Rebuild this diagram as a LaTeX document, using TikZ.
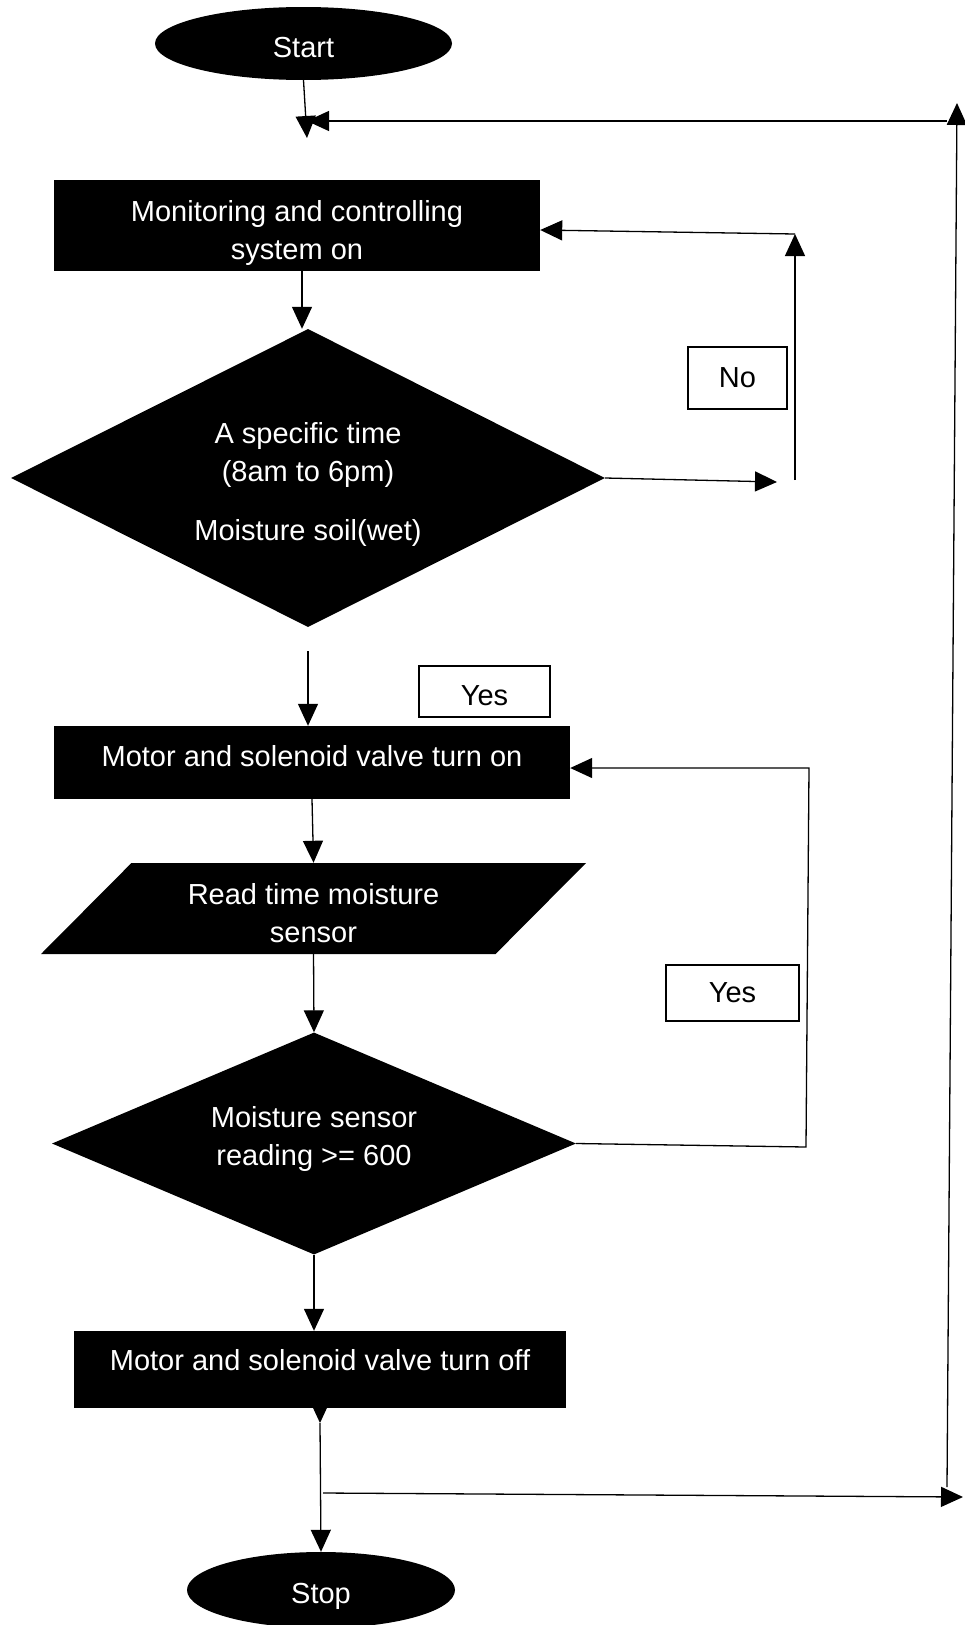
\documentclass[tikz,border=0pt]{standalone}
\usepackage{fontspec}
\setmainfont{Liberation Sans}
\usetikzlibrary{arrows.meta,shapes.geometric}

\begin{document}
\begin{tikzpicture}[x=1pt,y=-1pt,
    every node/.style={font=\fontsize{29}{38}\selectfont, inner sep=0pt},
    term/.style={ellipse, fill=black, text=white},
    procbox/.style={rectangle, fill=black, text=white, align=center},
    decide/.style={diamond, shape aspect=2, fill=black, text=white, align=center},
    iobox/.style={trapezium, trapezium left angle=39.4, trapezium right angle=140.6,
        trapezium stretches body, inner ysep=3pt, fill=black, text=white, align=center},
    tag/.style={rectangle, draw=black, line width=1.8pt, fill=white},
    arr/.style={line width=1.3pt, draw=black, -{Triangle[length=22pt,width=20pt]}}]
    \useasboundingbox (0,0) rectangle (965,1625);

    % shapes
    \node[term, minimum width=297pt, minimum height=73pt, text height=29pt] (start) at (303.5,43.5) {Start};
    \node[procbox, minimum width=486pt, minimum height=91pt, text height=74pt] (box1) at (297,225.5) {Monitoring and controlling\\system on};
    \node[decide, minimum width=594pt, minimum height=298pt, text height=131pt] (dia1) at (308,478) {A specific time\\(8am to 6pm)\\[21pt]Moisture soil(wet)};
    \node[procbox, minimum width=516pt, minimum height=73pt, text depth=13pt] (box2) at (312,762.5) {Motor and solenoid valve turn on};
    \node[iobox, minimum width=545pt, minimum height=91pt, text height=68pt] (para) at (313.5,908.5) {Read time moisture\\sensor};
    \node[decide, shape aspect=2.36, minimum width=524pt, minimum height=222pt, text height=50pt] (dia2) at (314,1143.5) {Moisture sensor\\reading >= 600};
    \node[procbox, minimum width=492pt, minimum height=77pt, text depth=19pt] (box3) at (320,1369.5) {Motor and solenoid valve turn off};
    \node[term, minimum width=268pt, minimum height=76pt, text height=33pt] (stop) at (321,1590) {Stop};

    % labels
    \node[tag, minimum width=99pt, minimum height=62pt] (no) at (737.5,378) {No};
    \node[tag, minimum width=131pt, minimum height=51pt, text height=29pt] (yes1) at (484.5,691.5) {Yes};
    \node[tag, minimum width=133pt, minimum height=56pt] (yes2) at (732.5,993) {Yes};

    % free ends
    \coordinate (c1) at (307,138);
    \coordinate (tl) at (307,121);
    \coordinate (tr) at (947,121);
    \coordinate (rt) at (957,103);
    \coordinate (rb) at (947,1487);
    \coordinate (n1) at (777,482);
    \coordinate (n2) at (795,480);
    \coordinate (n3) at (795,234);
    \coordinate (y1) at (308,651);
    \coordinate (y2a) at (806,1147);
    \coordinate (y2b) at (809,768);
    \coordinate (s1) at (320,1423);
    \coordinate (b1) at (323,1493);
    \coordinate (b2) at (963,1497);

    % connectors
    \draw[arr] (start.south) -- (c1);
    \draw[arr] (tr) -- (tl);
    \draw[arr] (rb) -- (rt);
    \draw[arr] ([xshift=5pt]box1.south) -- ([xshift=-6pt]dia1.north);
    \draw[arr] (dia1.east) -- (n1);
    \draw[arr] (n2) -- (n3);
    \draw[arr] (n3) -- ([yshift=-4.5pt]box1.east);
    \draw[arr] (y1) -- (y1 |- box2.north);
    \draw[arr] (box2.south) -- (para.north);
    \draw[arr] (para.south) -- (dia2.north);
    \draw[arr] (dia2.east) -- (y2a) -- (y2b) -- ([yshift=-5.5pt]box2.east);
    \draw[arr] (dia2.south) -- (dia2.south |- box3.north);
    \draw[arr] ([yshift=10pt]box3.south) -- (s1);
    \draw[arr] (s1) -- (stop.north);
    \draw[arr] (b1) -- (b2);
\end{tikzpicture}
\end{document}
